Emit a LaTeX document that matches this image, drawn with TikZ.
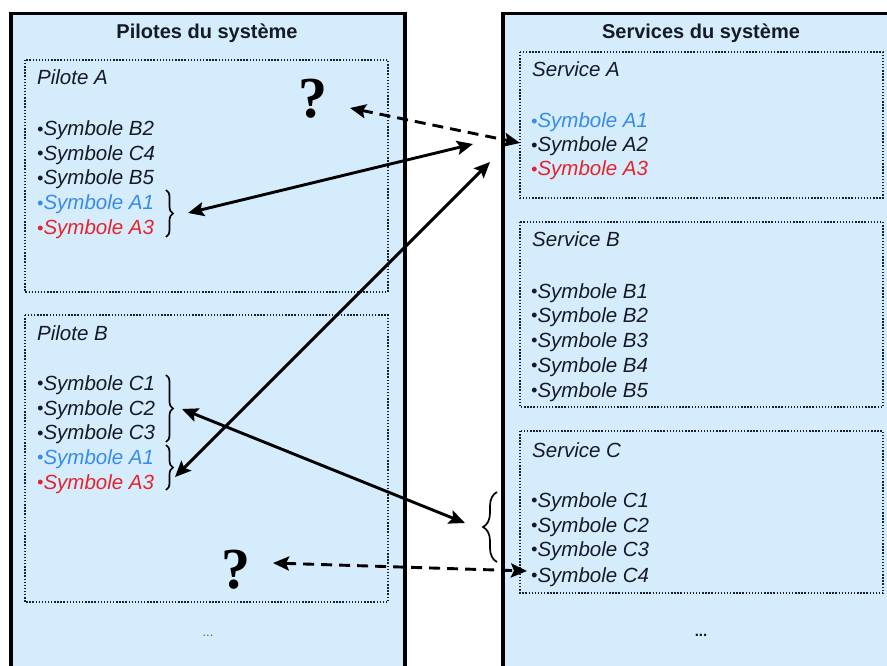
\documentclass[tikz,border=0pt]{standalone}
\usepackage{fontspec}
\setmainfont{Liberation Sans}
\newfontfamily\qfont{Liberation Serif}
\usetikzlibrary{arrows.meta,decorations.pathreplacing}
\definecolor{panelbg}{RGB}{213,236,252}
\definecolor{txt}{RGB}{22,26,36}
\definecolor{symblue}{RGB}{55,140,235}
\definecolor{symred}{RGB}{230,35,45}
\definecolor{dotc}{RGB}{25,32,50}
\definecolor{dimgray}{RGB}{90,95,105}
\newcommand{\bul}{{\fontsize{18}{18}\selectfont\raisebox{0.5pt}{•}}}
\begin{document}
\begin{tikzpicture}[x=1pt,y=-1pt,
  panel/.style={draw=black, fill=panelbg, line width=3.8pt},
  group/.style={draw=dotc, line width=1.7pt, dash pattern=on 1.4pt off 1.7pt},
  sym/.style={anchor=base west, inner sep=0pt, font=\fontsize{20.5}{24}\selectfont\itshape, text=txt},
  head/.style={anchor=base, inner sep=0pt, font=\fontsize{20}{24}\selectfont\bfseries, text=txt},
  qmark/.style={anchor=base, inner sep=0pt, font=\qfont\bfseries\fontsize{58}{60}\selectfont},
  link/.style={line width=2.9pt, {Stealth[length=16pt,width=14pt,inset=3pt]}-{Stealth[length=16pt,width=14pt,inset=3pt]}},
  dlink/.style={link, dash pattern=on 11pt off 7pt},
  cbrace/.style={decorate, decoration={brace, amplitude=#1}, line width=1.7pt},
  cbrace/.default=7pt
]
\useasboundingbox (0,0) rectangle (887,666);
\clip (0,0) rectangle (887,666);
\fill[white] (0,0) rectangle (887,666);

% panels
\draw[panel] (11,13.5) rectangle (405,700);
\draw[panel] (503,13.5) rectangle (950,700);
\node[head] (tp) at (207,39) {Pilotes du système};
\node[head] (ts) at (701,39) {Services du système};

% groups
\draw[group] (25,60) rectangle (388,292);
\draw[group] (25,315) rectangle (388,602);
\draw[group] (520,52) rectangle (883,198);
\draw[group] (520,222) rectangle (883,407);
\draw[group] (520,431) rectangle (883,593);

% Pilote A
\node[sym] (pA) at (37,85) {Pilote A};
\node[sym] (pAb2) at (37,136) {\bul Symbole B2};
\node[sym] (pAc4) at (37,160.5) {\bul Symbole C4};
\node[sym] (pAb5) at (37,185) {\bul Symbole B5};
\node[sym, text=symblue] (pAa1) at (37,210) {\bul Symbole A1};
\node[sym, text=symred] (pAa3) at (37,235) {\bul Symbole A3};
\node[qmark] (qA) at (313,118) {?};

% Pilote B
\node[sym] (pB) at (37,340) {Pilote B};
\node[sym] (pBc1) at (37,390) {\bul Symbole C1};
\node[sym] (pBc2) at (37,415) {\bul Symbole C2};
\node[sym] (pBc3) at (37,439.5) {\bul Symbole C3};
\node[sym, text=symblue] (pBa1) at (37,464) {\bul Symbole A1};
\node[sym, text=symred] (pBa3) at (37,489) {\bul Symbole A3};
\node[qmark] (qB) at (236,588) {?};
\node[anchor=base, inner sep=0pt, font=\fontsize{13}{14}\selectfont, text=dimgray] (pdots) at (208,636) {...};

% Service A
\node[sym] (sA) at (532,77) {Service A};
\node[sym, text=symblue] (sAa1) at (531,128) {\bul Symbole A1};
\node[sym] (sAa2) at (531,152) {\bul Symbole A2};
\node[sym, text=symred] (sAa3) at (531,176) {\bul Symbole A3};

% Service B
\node[sym] (sB) at (532,247) {Service B};
\node[sym] (sBb1) at (531,298) {\bul Symbole B1};
\node[sym] (sBb2) at (531,322) {\bul Symbole B2};
\node[sym] (sBb3) at (531,347) {\bul Symbole B3};
\node[sym] (sBb4) at (531,372) {\bul Symbole B4};
\node[sym] (sBb5) at (531,397) {\bul Symbole B5};

% Service C
\node[sym] (sC) at (532,457) {Service C};
\node[sym] (sCc1) at (531,507) {\bul Symbole C1};
\node[sym] (sCc2) at (531,532) {\bul Symbole C2};
\node[sym] (sCc3) at (531,556) {\bul Symbole C3};
\node[sym] (sCc4) at (531,582) {\bul Symbole C4};
\node[anchor=base, inner sep=0pt, font=\fontsize{15}{16}\selectfont\bfseries, text=txt] (sdots) at (701,636) {...};

% braces
\draw[cbrace] (166,190) -- (166,237);
\draw[cbrace] (166,375) -- (166,442);
\draw[cbrace] (166,445) -- (166,490);
\draw[cbrace=14pt] (497,562) -- (497,492);

% connector end points
\coordinate (e1a) at (350,108);
\coordinate (e1b) at (520,143);
\coordinate (e2a) at (188,213);
\coordinate (e2b) at (473,144);
\coordinate (e3a) at (175,477);
\coordinate (e3b) at (490,162);
\coordinate (e4a) at (182,409);
\coordinate (e4b) at (465,523);
\coordinate (e5a) at (273,563);
\coordinate (e5b) at (527,571);

\draw[dlink] (e1a) -- (e1b);
\draw[link] (e2a) -- (e2b);
\draw[link] (e3a) -- (e3b);
\draw[link] (e4a) -- (e4b);
\draw[dlink] (e5a) -- (e5b);
\end{tikzpicture}
\end{document}
